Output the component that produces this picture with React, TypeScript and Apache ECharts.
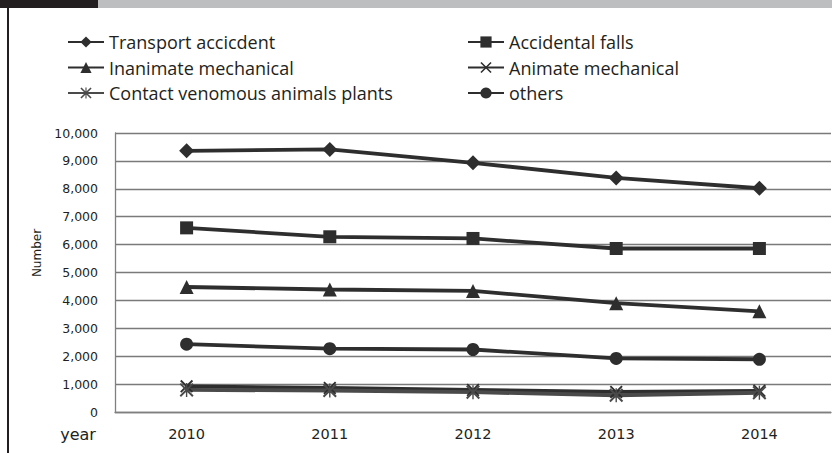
import React, { useEffect, useRef } from "react";
import * as echarts from "echarts";

const years = ["2010", "2011", "2012", "2013", "2014"];
const transport = [9360, 9410, 8930, 8390, 8020];
const falls = [6600, 6280, 6220, 5860, 5860];
const inanimate = [4480, 4390, 4340, 3900, 3610];
const animate = [920, 860, 790, 720, 760];
const venomous = [790, 770, 710, 600, 690];
const others = [2430, 2270, 2240, 1920, 1890];
const yTicks = [0, 1000, 2000, 3000, 4000, 5000, 6000, 7000, 8000, 9000, 10000];

const leftLegend = ["Transport accicdent", "Inanimate mechanical", "Contact venomous animals plants"];
const rightLegend = ["Accidental falls", "Animate mechanical", "others"];

const crossPath = "path://M0,1 L1,0 L10,9 L9,10 Z M9,0 L10,1 L1,10 L0,9 Z";
const starPath = "path://M0,1 L1,0 L10,9 L9,10 Z M9,0 L10,1 L1,10 L0,9 Z M4.5,0 L5.5,0 L5.5,10 L4.5,10 Z";

export default function App() {
  const ref = useRef<HTMLDivElement>(null);
  useEffect(() => {
    if (!ref.current) return;
    const chart = echarts.init(ref.current, null, { renderer: "svg" });
    const lineColor = "#2e2e2e";
    const mk = (name: string, data: number[], symbol: string, size: number, color = lineColor) => ({
      name,
      type: "line",
      data,
      symbol,
      symbolSize: size,
      showAllSymbol: true,
      lineStyle: { color, width: 3.8 },
      itemStyle: { color },
      z: 3,
    });
    const legendText = { fontFamily: "Open Sans", fontSize: 18, color: "#231f20", lineHeight: 18 };
    const legendBase = {
      orient: "vertical",
      top: 33,
      padding: 0,
      itemWidth: 36,
      itemHeight: 14,
      itemGap: 7.5,
      textStyle: legendText,
      selectedMode: false,
    };
    chart.setOption({
      animation: false,
      backgroundColor: "#ffffff",
      grid: { left: 115, right: 1, top: 133, bottom: 41 },
      legend: [
        { ...legendBase, left: 67, data: leftLegend },
        { ...legendBase, left: 467, data: rightLegend },
      ],
      xAxis: {
        type: "category",
        data: years,
        boundaryGap: true,
        axisLine: { show: true, lineStyle: { color: "#808080", width: 1.3 } },
        axisTick: { show: false },
        axisLabel: { fontFamily: "DejaVu Sans", fontSize: 14.5, color: "#231f20", margin: 14 },
        splitLine: { show: false },
      },
      yAxis: {
        type: "value",
        min: 0,
        max: 10000,
        interval: 1000,
        axisLine: { show: true, lineStyle: { color: "#808080", width: 1.3 } },
        axisTick: { show: false },
        axisLabel: {
          fontFamily: "DejaVu Sans",
          fontSize: 12.5,
          color: "#231f20",
          margin: 17,
          formatter: (v: number) => (yTicks.includes(v) ? v.toLocaleString("en-US") : ""),
        },
        splitLine: { show: true, lineStyle: { color: "#7a7a7a", width: 1.3 } },
      },
      graphic: [
        { type: "rect", shape: { x: 0, y: 0, width: 98, height: 8 }, style: { fill: "#231f20" } },
        { type: "rect", shape: { x: 98, y: 0, width: 734, height: 8 }, style: { fill: "#bcbec0" } },
        { type: "rect", shape: { x: 7, y: 8, width: 2, height: 445 }, style: { fill: "#231f20" } },
        {
          type: "text",
          x: 37,
          y: 253,
          rotation: Math.PI / 2,
          style: {
            text: "Number",
            fontFamily: "DejaVu Sans",
            fontSize: 12,
            fill: "#231f20",
            align: "center",
            verticalAlign: "middle",
          },
        },
        {
          type: "text",
          x: 78,
          y: 434,
          style: {
            text: "year",
            fontFamily: "DejaVu Sans",
            fontSize: 16,
            fill: "#231f20",
            align: "center",
            verticalAlign: "middle",
          },
        },
      ],
      series: [
        mk("Transport accicdent", transport, "diamond", 15),
        mk("Accidental falls", falls, "rect", 13),
        mk("Inanimate mechanical", inanimate, "triangle", 14),
        mk("Animate mechanical", animate, crossPath, 13),
        mk("Contact venomous animals plants", venomous, starPath, 14, "#4a4a4a"),
        mk("others", others, "circle", 13),
      ],
    });
    return () => chart.dispose();
  }, []);
  return <div ref={ref} style={{ width: 832, height: 453, position: "absolute", left: 0, top: 0 }} />;
}
